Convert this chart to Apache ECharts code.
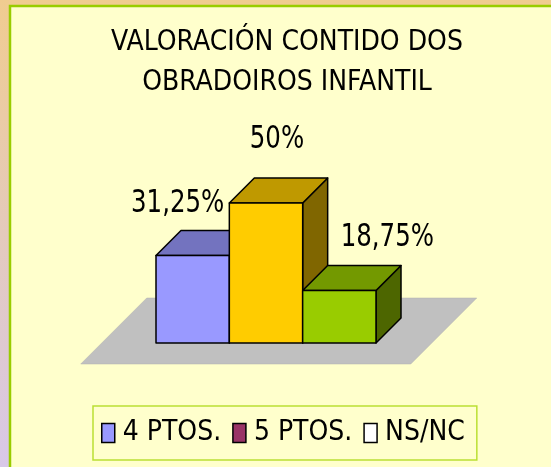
<!DOCTYPE html>
<html>
<head>
<meta charset="utf-8">
<script src="https://cdn.jsdelivr.net/npm/echarts@6/dist/echarts.min.js"></script>
<style>
  html, body { margin: 0; padding: 0; }
  #chart { width: 551px; height: 467px; }
</style>
</head>
<body>
<div id="chart"></div>
<script>
// chart data
var categories = ['4 PTOS.', '5 PTOS.', 'NS/NC']
var values = [31.25, 50, 18.75]
var legendColors = ['#9999FF', '#993366', '#FFFFFF']
var barColors = [
  { front: '#9999FF', top: '#7373BF', side: '#4D4D80' },
  { front: '#FFCC00', top: '#BF9900', side: '#806600' },
  { front: '#99CC00', top: '#739900', side: '#4D6600' }
]
var titleText = 'VALORACIÓN CONTIDO DOS\nOBRADOIROS INFANTIL'

var FONT = "'DejaVu Sans Condensed', sans-serif"
var DEPTH = 25
// label offsets from the front-top centre of each box (as Excel placed them)
var labelOffsets = [[-15, -52], [11, -63], [48, -53]]

function fmt(v) {
  return String(v).replace('.', ',') + '%'
}

function renderFloor(params, api) {
  var w = api.size([1, 0])[0]
  var first = api.coord([0, 0])
  var last = api.coord([categories.length - 1, 0])
  var b = first[1]
  var xl = first[0] - w / 2 - w * 0.74
  var xr = last[0] + w / 2 + w * 0.76
  var f = 21, k = 45
  return {
    type: 'polygon',
    shape: { points: [[xl - f, b + f], [xr - f, b + f], [xr + k, b - k], [xl + k, b - k]] },
    style: { fill: '#C0C0C0', stroke: '#B0B0B0', lineWidth: 0.5 }
  }
}

function renderBox(params, api) {
  var i = api.value(0)
  var v = api.value(1)
  var base = api.coord([i, 0])
  var top = api.coord([i, v])
  var w = api.size([1, 0])[0]
  var l = base[0] - w / 2, r = base[0] + w / 2, b = base[1], t = top[1]
  var d = DEPTH
  var c = barColors[i]
  var line = { stroke: '#000', lineWidth: 1.5, lineJoin: 'round' }
  var off = labelOffsets[i]
  return {
    type: 'group',
    children: [
      { type: 'polygon', shape: { points: [[r, b], [r + d, b - d], [r + d, t - d], [r, t]] },
        style: Object.assign({ fill: c.side }, line) },
      { type: 'polygon', shape: { points: [[l, t], [l + d, t - d], [r + d, t - d], [r, t]] },
        style: Object.assign({ fill: c.top }, line) },
      { type: 'rect', shape: { x: l, y: t, width: w, height: b - t },
        style: Object.assign({ fill: c.front }, line) },
      { type: 'text', x: (l + r) / 2 + off[0], y: t + off[1], scaleX: 0.85,
        style: { text: fmt(v), fill: '#000', font: '32px ' + FONT, align: 'center', verticalAlign: 'middle' } }
    ]
  }
}

var series = [{
  type: 'custom',
  name: 'floor',
  z: 1,
  silent: true,
  renderItem: renderFloor,
  data: [[0, 0]]
}]
categories.forEach(function (name, i) {
  series.push({
    type: 'custom',
    name: name,
    z: 2 + i,
    itemStyle: { color: legendColors[i], borderColor: '#000', borderWidth: 1.5 },
    renderItem: renderBox,
    data: [[i, values[i]]]
  })
})

var chart = echarts.init(document.getElementById('chart'))
chart.setOption({
  animation: false,
  backgroundColor: {
    type: 'linear', x: 0, y: 0, x2: 0, y2: 1,
    colorStops: [{ offset: 0, color: '#F0CC90' }, { offset: 1, color: '#D8C8E8' }]
  },
  graphic: [{
    type: 'rect',
    z: -10,
    shape: { x: 10, y: 6, width: 560, height: 480 },
    style: { fill: '#FFFFCC', stroke: '#99CC00', lineWidth: 2.5 }
  }],
  title: {
    text: titleText,
    left: 287,
    top: 23,
    padding: 0,
    textAlign: 'center',
    textStyle: { fontFamily: FONT, fontSize: 28, fontWeight: 'normal', lineHeight: 40, color: '#000' }
  },
  legend: {
    data: categories.map(function (n, i) {
      return { name: n, itemStyle: { color: legendColors[i], borderColor: '#000', borderWidth: 1.5 } }
    }),
    left: 93,
    top: 406,
    padding: [12, 12, 12, 8],
    itemWidth: 13,
    itemHeight: 19,
    itemGap: 11,
    icon: 'rect',
    borderColor: '#BBE033',
    borderWidth: 1.5,
    backgroundColor: '#FFFFCC',
    selectedMode: false,
    textStyle: { fontFamily: FONT, fontSize: 28, lineHeight: 30, color: '#000', padding: [0, 0, 0, 3] }
  },
  grid: { left: 156, right: 175, top: 203, bottom: 124 },
  xAxis: { type: 'category', data: categories, show: false },
  yAxis: { type: 'value', min: 0, max: 50, show: false },
  series: series
})
</script>
</body>
</html>
